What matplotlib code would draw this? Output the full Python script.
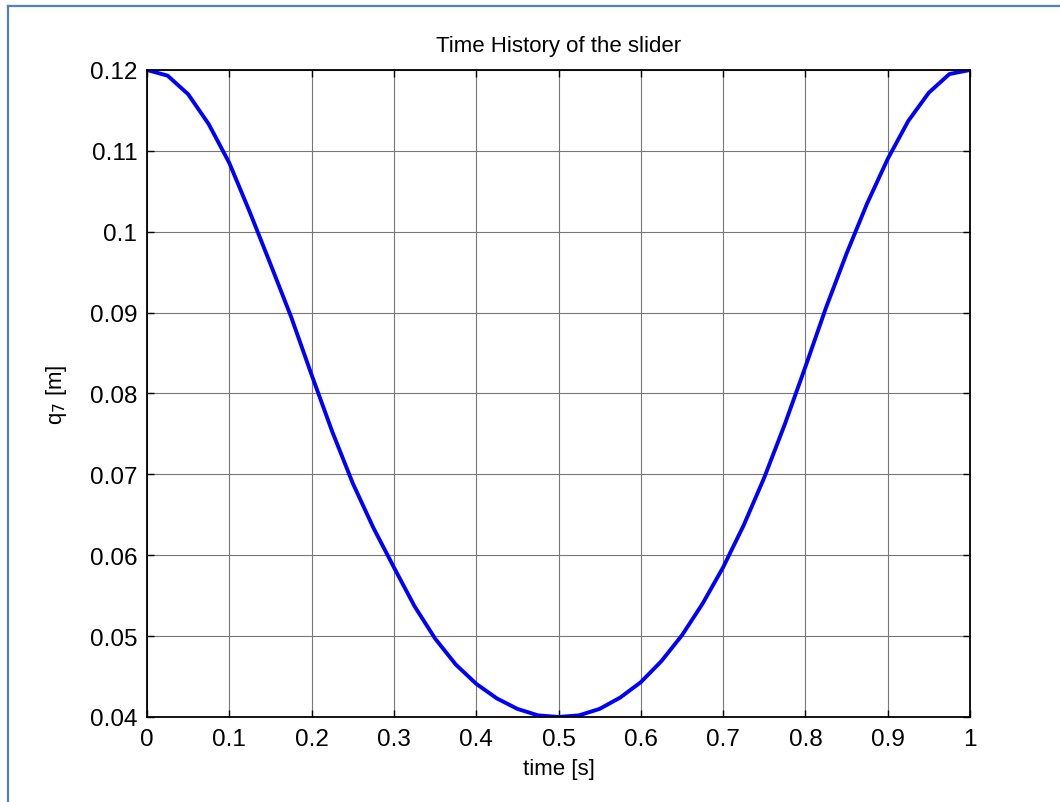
import matplotlib
matplotlib.use("Agg")
import matplotlib.pyplot as plt
from matplotlib.lines import Line2D

# slider position q7 over one period
time = [0.0, 0.025, 0.05, 0.075, 0.1, 0.125, 0.15, 0.175, 0.2, 0.225,
        0.25, 0.275, 0.3, 0.325, 0.35, 0.375, 0.4, 0.425, 0.45, 0.475,
        0.5, 0.525, 0.55, 0.575, 0.6, 0.625, 0.65, 0.675, 0.7, 0.725,
        0.75, 0.775, 0.8, 0.825, 0.85, 0.875, 0.9, 0.925, 0.95, 0.975, 1.0]
q7 = [0.1200, 0.1193, 0.1170, 0.1133, 0.1085, 0.1024, 0.0960, 0.0895, 0.0823, 0.0753,
      0.0689, 0.0634, 0.0585, 0.0537, 0.0497, 0.0465, 0.0441, 0.0423, 0.0410, 0.0402,
      0.0400, 0.0402, 0.0410, 0.0424, 0.0443, 0.0469, 0.0501, 0.0540, 0.0585, 0.0637,
      0.0696, 0.0762, 0.0833, 0.0906, 0.0973, 0.1035, 0.1090, 0.1137, 0.1172, 0.1195, 0.1200]

xticks = [0, 0.1, 0.2, 0.3, 0.4, 0.5, 0.6, 0.7, 0.8, 0.9, 1]
xticklabels = ["0", "0.1", "0.2", "0.3", "0.4", "0.5", "0.6", "0.7", "0.8", "0.9", "1"]
yticks = [0.04, 0.05, 0.06, 0.07, 0.08, 0.09, 0.1, 0.11, 0.12]
yticklabels = ["0.04", "0.05", "0.06", "0.07", "0.08", "0.09", "0.1", "0.11", "0.12"]

plt.rcParams["font.family"] = ["Liberation Sans", "DejaVu Sans"]

fig = plt.figure(figsize=(10.6, 8.03), dpi=100)
ax = fig.add_axes([0.1387, 0.1059, 0.7764, 0.8057])

ax.plot(time, q7, color="#0000ff", lw=2.8, solid_joinstyle="round",
        solid_capstyle="round")

ax.set_xlim(0, 1)
ax.set_ylim(0.04, 0.12)
ax.set_xticks(xticks)
ax.set_xticklabels(xticklabels)
ax.set_yticks(yticks)
ax.set_yticklabels(yticklabels)

ax.grid(True, color="#777777", lw=0.8, linestyle="-")
ax.tick_params(direction="in", length=5, width=1.0, top=True, right=True,
               labelsize=17.5, colors="black")
ax.tick_params(axis="x", pad=8)
ax.tick_params(axis="y", pad=7)
for s in ax.spines.values():
    s.set_linewidth(1.3)

ax.set_title("Time History of the slider", fontsize=16, pad=14)
ax.set_xlabel("time [s]", fontsize=16, labelpad=6)
ax.set_ylabel("q$_7$ [m]", fontsize=16, labelpad=15)

# page frame lines (top and left)
fig.add_artist(Line2D([8 / 1060, 1], [1 - 7 / 803, 1 - 7 / 803],
                      transform=fig.transFigure, color="#4f81bd", lw=1.6))
fig.add_artist(Line2D([8 / 1060, 8 / 1060], [0, 1 - 7 / 803],
                      transform=fig.transFigure, color="#4f81bd", lw=1.6))

fig.savefig("out.png", dpi=100)
